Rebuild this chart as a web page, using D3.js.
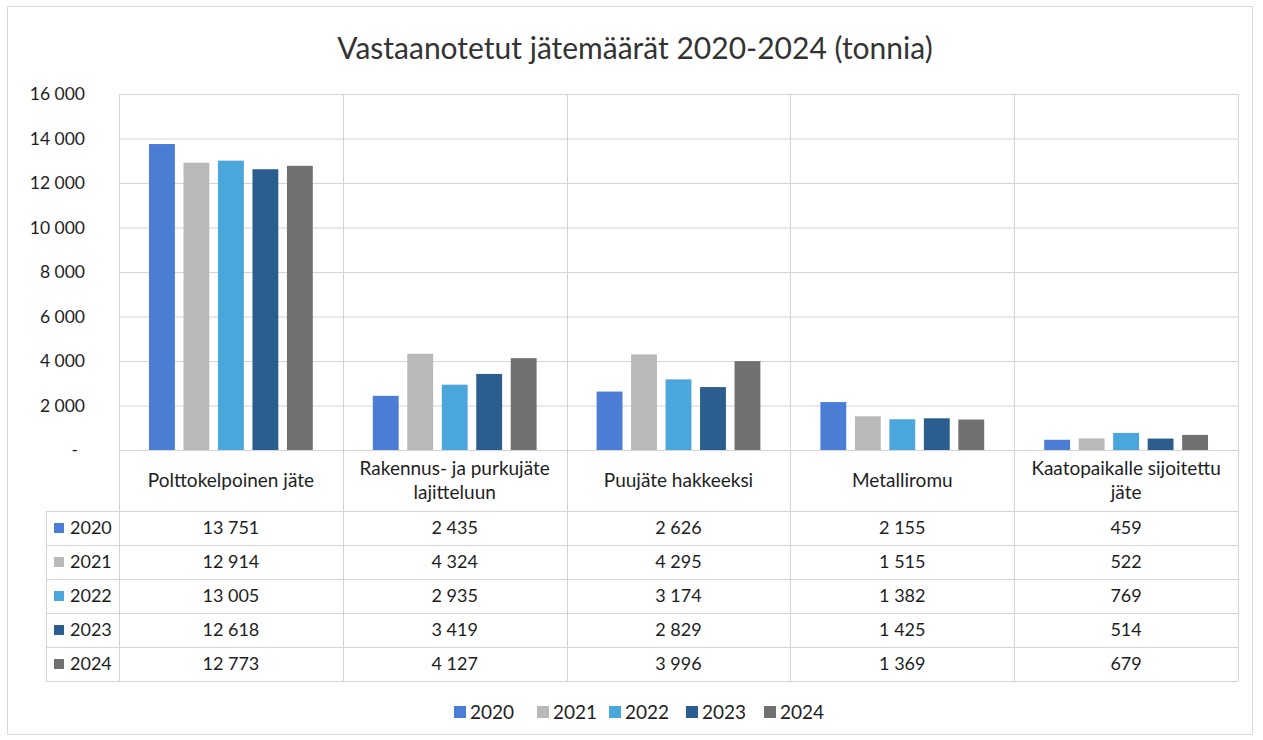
<!DOCTYPE html>
<html><head><meta charset="utf-8">
<script src="https://cdn.jsdelivr.net/npm/d3@7"></script>
<style>body{margin:0;background:#fff}svg{display:block}text{font-family:Lato,"Open Sans",sans-serif;fill:#1e1e1e}</style>
</head><body><svg id="c" width="1263" height="740"></svg>
<script>
const title = "Vastaanotetut jätemäärät 2020-2024 (tonnia)";
const categories = ["Polttokelpoinen jäte", "Rakennus- ja purkujäte lajitteluun", "Puujäte hakkeeksi", "Metalliromu", "Kaatopaikalle sijoitettu jäte"];
const categoryLines = [["Polttokelpoinen jäte"], ["Rakennus- ja purkujäte", "lajitteluun"], ["Puujäte hakkeeksi"], ["Metalliromu"], ["Kaatopaikalle sijoitettu", "jäte"]];
const years = ["2020", "2021", "2022", "2023", "2024"];
const v2020 = [13751, 2435, 2626, 2155, 459];
const v2021 = [12914, 4324, 4295, 1515, 522];
const v2022 = [13005, 2935, 3174, 1382, 769];
const v2023 = [12618, 3419, 2829, 1425, 514];
const v2024 = [12773, 4127, 3996, 1369, 679];
const yTicks = [0, 2000, 4000, 6000, 8000, 10000, 12000, 14000, 16000];
const colors = ["#4a7dd3", "#b9b9b9", "#4ba6dc", "#2b5d8e", "#707070"];

const series = [v2020, v2021, v2022, v2023, v2024];
const loc = d3.formatLocale({decimal: ",", thousands: " ", grouping: [3], currency: ["", ""]});
const fmt = loc.format(",d");

const svg = d3.select("#c");
const L = 119, R = 1238, T = 94, B = 450;
const tableTop = B, rowTop = 511, rowH = 34, legendL = 46;
const grid = "#d4d4d4";

svg.append("rect").attr("x", 7.5).attr("y", 6.5).attr("width", 1245).attr("height", 728)
  .attr("fill", "#fff").attr("stroke", "#d9d9d9");

svg.append("text").attr("x", 635).attr("y", 59).attr("text-anchor", "middle")
  .style("font-size", "30px").style("fill", "#333").text(title);

const x0 = d3.scaleBand().domain(categories).range([L, R]).padding(0);
const x1 = d3.scaleBand().domain(years).range([30, x0.bandwidth() - 30]).paddingInner(0.25).paddingOuter(0);
const y = d3.scaleLinear().domain([0, 16000]).range([B, T]);

// horizontal gridlines
svg.append("g").selectAll("line").data(yTicks).join("line")
  .attr("x1", L).attr("x2", R).attr("y1", d => y(d) + 0.5).attr("y2", d => y(d) + 0.5)
  .attr("stroke", grid);

// y axis labels
svg.append("g").selectAll("text").data(yTicks).join("text")
  .attr("x", d => d === 0 ? 78 : 85).attr("y", d => y(d)).attr("dy", "0.35em")
  .attr("text-anchor", "end").style("font-size", "17.5px")
  .text(d => d === 0 ? "-" : fmt(d));

// vertical lines (category boundaries through table)
const bounds = categories.map(c => x0(c)).concat([R]);
svg.append("g").selectAll("line").data(bounds).join("line")
  .attr("x1", d => Math.round(d) + 0.5).attr("x2", d => Math.round(d) + 0.5)
  .attr("y1", T).attr("y2", rowTop + rowH * years.length)
  .attr("stroke", grid);

// table horizontal lines
const rowLines = d3.range(years.length + 1).map(i => rowTop + i * rowH);
svg.append("g").selectAll("line").data(rowLines).join("line")
  .attr("x1", legendL).attr("x2", R).attr("y1", d => d + 0.5).attr("y2", d => d + 0.5)
  .attr("stroke", grid);
svg.append("line").attr("x1", legendL + 0.5).attr("x2", legendL + 0.5)
  .attr("y1", rowTop).attr("y2", rowTop + rowH * years.length).attr("stroke", grid);

// bars
const groups = svg.append("g").selectAll("g").data(categories).join("g")
  .attr("transform", c => `translate(${x0(c)},0)`);
groups.selectAll("rect").data((c, ci) => years.map((yr, si) => ({yr, si, v: series[si][ci]})))
  .join("rect")
  .attr("x", d => x1(d.yr)).attr("width", x1.bandwidth())
  .attr("y", d => y(d.v)).attr("height", d => y(0) - y(d.v))
  .attr("fill", d => colors[d.si]);

// category labels
categories.forEach((c, ci) => {
  const lines = categoryLines[ci];
  const cx = x0(c) + x0.bandwidth() / 2;
  const cy = (tableTop + rowTop) / 2;
  lines.forEach((ln, li) => {
    svg.append("text").attr("x", cx).attr("y", cy + (li - (lines.length - 1) / 2) * 24)
      .attr("dy", "0.35em").attr("text-anchor", "middle").style("font-size", "19px").text(ln);
  });
});

// table rows
years.forEach((yr, si) => {
  const cy = rowTop + si * rowH + rowH / 2;
  svg.append("rect").attr("x", 54).attr("y", cy - 5).attr("width", 10).attr("height", 10).attr("fill", colors[si]);
  svg.append("text").attr("x", 70).attr("y", cy).attr("dy", "0.35em").style("font-size", "18px").text(yr);
  categories.forEach((c, ci) => {
    svg.append("text").attr("x", x0(c) + x0.bandwidth() / 2).attr("y", cy).attr("dy", "0.35em")
      .attr("text-anchor", "middle").style("font-size", "18px").text(fmt(series[si][ci]));
  });
});

// legend
const legX = [454, 537, 609, 686, 764];
years.forEach((yr, si) => {
  svg.append("rect").attr("x", legX[si]).attr("y", 706).attr("width", 12).attr("height", 12).attr("fill", colors[si]);
  svg.append("text").attr("x", legX[si] + 16).attr("y", 712).attr("dy", "0.35em").style("font-size", "19px").text(yr);
});
</script></body></html>
